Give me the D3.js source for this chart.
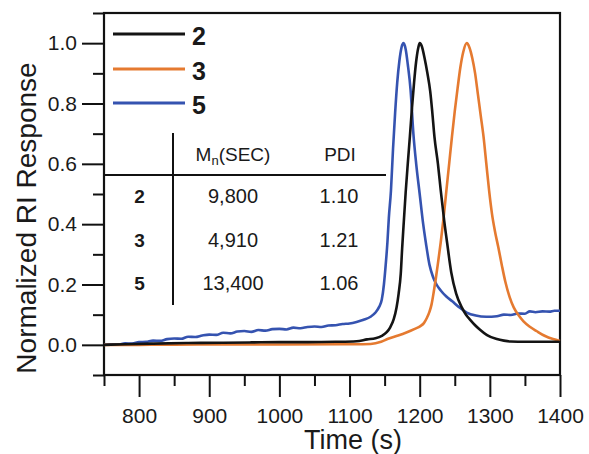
<!DOCTYPE html>
<html>
<head>
<title>SEC traces</title>
<script src="https://d3js.org/d3.v7.min.js"></script>
<style>
  body { margin: 0; background: white; }
  text { font-family: 'Liberation Sans', Arial, sans-serif; fill: #1a1a1a; }
</style>
</head>
<body>
<div id="chart"></div>
<script>
// series names and colours
var seriesNames = ['2', '3', '5'];
var seriesColors = ['#141414', '#e57a30', '#3553b0'];

// trace of 2 (black)
var time2 = [750, 780, 820, 870, 920, 960, 1000, 1040, 1080, 1110, 1125, 1137, 1146, 1153, 1158, 1163, 1167, 1170, 1173, 1175, 1177, 1180, 1183, 1186, 1189, 1192, 1195, 1198, 1200, 1203, 1207, 1211, 1215, 1218, 1221, 1226, 1230, 1235, 1239, 1245, 1252, 1260, 1266, 1272, 1279, 1286, 1296, 1310, 1320, 1330, 1350, 1375, 1400];
var resp2 = [0.000, 0.002, 0.004, 0.006, 0.007, 0.008, 0.009, 0.009, 0.010, 0.012, 0.018, 0.022, 0.030, 0.042, 0.058, 0.085, 0.124, 0.170, 0.235, 0.320, 0.395, 0.505, 0.600, 0.690, 0.785, 0.870, 0.940, 0.985, 1.000, 0.990, 0.950, 0.900, 0.840, 0.770, 0.690, 0.600, 0.512, 0.410, 0.340, 0.240, 0.170, 0.124, 0.100, 0.083, 0.065, 0.050, 0.032, 0.019, 0.014, 0.011, 0.010, 0.010, 0.010];

// trace of 3 (orange)
var time3 = [750, 800, 900, 1000, 1100, 1130, 1145, 1155, 1168, 1181, 1193, 1201, 1206, 1210, 1214, 1217, 1220, 1223, 1226, 1230, 1234, 1238, 1242, 1246, 1250, 1254, 1258, 1262, 1267, 1271, 1275, 1279, 1283, 1287, 1291, 1295, 1299, 1303, 1307, 1312, 1317, 1322, 1328, 1334, 1341, 1348, 1357, 1367, 1378, 1390, 1400];
var resp3 = [0.000, 0.000, 0.001, 0.001, 0.002, 0.003, 0.010, 0.020, 0.030, 0.041, 0.053, 0.062, 0.072, 0.088, 0.110, 0.135, 0.175, 0.220, 0.270, 0.340, 0.420, 0.510, 0.600, 0.690, 0.775, 0.850, 0.920, 0.970, 1.000, 0.985, 0.950, 0.900, 0.830, 0.760, 0.690, 0.600, 0.510, 0.435, 0.380, 0.324, 0.265, 0.210, 0.160, 0.124, 0.098, 0.078, 0.060, 0.045, 0.030, 0.019, 0.013];

// trace of 5 (blue)
var time5 = [750, 760, 770, 780, 790, 800, 810, 820, 830, 840, 850, 860, 870, 880, 890, 900, 910, 920, 930, 940, 950, 960, 970, 980, 990, 1000, 1010, 1020, 1030, 1040, 1050, 1060, 1070, 1080, 1090, 1100, 1110, 1120, 1130, 1137, 1142, 1146, 1149, 1151, 1154, 1156, 1159, 1162, 1165, 1168, 1171, 1174, 1177, 1180, 1183, 1187, 1191, 1195, 1200, 1205, 1209, 1214, 1219, 1224, 1230, 1238, 1246, 1256, 1267, 1280, 1295, 1310, 1320, 1330, 1340, 1350, 1357, 1365, 1375, 1385, 1392, 1400];
var resp5 = [0.000, 0.002, 0.001, 0.005, 0.004, 0.009, 0.010, 0.014, 0.013, 0.019, 0.021, 0.020, 0.027, 0.026, 0.031, 0.034, 0.033, 0.040, 0.038, 0.044, 0.046, 0.043, 0.049, 0.047, 0.052, 0.053, 0.051, 0.057, 0.055, 0.059, 0.061, 0.059, 0.064, 0.065, 0.069, 0.071, 0.076, 0.083, 0.093, 0.107, 0.125, 0.150, 0.200, 0.250, 0.340, 0.420, 0.510, 0.650, 0.770, 0.870, 0.940, 0.985, 1.000, 0.980, 0.930, 0.845, 0.700, 0.600, 0.500, 0.400, 0.335, 0.265, 0.225, 0.200, 0.180, 0.160, 0.145, 0.125, 0.107, 0.097, 0.093, 0.095, 0.100, 0.099, 0.104, 0.103, 0.111, 0.108, 0.111, 0.110, 0.113, 0.113];

// axis ticks
var xMajor = [800, 900, 1000, 1100, 1200, 1300, 1400];
var xMinor = [750, 850, 950, 1050, 1150, 1250, 1350];
var yMajor = [0.0, 0.2, 0.4, 0.6, 0.8, 1.0];
var yMinor = [-0.1, 0.1, 0.3, 0.5, 0.7, 0.9, 1.1];

// inset table
var tableHead = ['M', 'PDI'];
var tableRows = ['2', '3', '5'];
var tableMn = ['9,800', '4,910', '13,400'];
var tablePdi = ['1.10', '1.21', '1.06'];

var W = 589, H = 454;
var plotLeft = 104, plotRight = 560, plotTop = 13, plotBottom = 375;

var svg = d3.select('#chart').append('svg')
    .attr('width', W)
    .attr('height', H);

var x = d3.scaleLinear().domain([750, 1400]).range([plotLeft, plotRight]);
var y = d3.scaleLinear().domain([-0.1, 1.1]).range([plotBottom, plotTop]);

// minor ticks first, then major with labels
svg.append('g')
    .attr('transform', 'translate(0,' + plotBottom + ')')
    .call(d3.axisBottom(x).tickValues(xMinor).tickSize(11).tickFormat(''));
svg.append('g')
    .attr('class', 'xmajor')
    .attr('transform', 'translate(0,' + plotBottom + ')')
    .call(d3.axisBottom(x).tickValues(xMajor).tickSize(22).tickPadding(11).tickFormat(d3.format('d')));
svg.append('g')
    .attr('transform', 'translate(' + plotLeft + ',0)')
    .call(d3.axisLeft(y).tickValues(yMinor).tickSize(11).tickFormat(''));
svg.append('g')
    .attr('class', 'ymajor')
    .attr('transform', 'translate(' + plotLeft + ',0)')
    .call(d3.axisLeft(y).tickValues(yMajor).tickSize(22).tickPadding(5).tickFormat(d3.format('.1f')));

svg.selectAll('.domain').remove();
svg.selectAll('.tick line').attr('stroke', '#111').attr('stroke-width', 2);
svg.selectAll('.tick text')
    .style('font-family', "'Liberation Sans', Arial, sans-serif")
    .style('font-size', '21px')
    .attr('fill', '#1a1a1a');

// frame
svg.append('rect')
    .attr('x', plotLeft).attr('y', plotTop)
    .attr('width', plotRight - plotLeft).attr('height', plotBottom - plotTop)
    .attr('fill', 'none')
    .attr('stroke', '#111')
    .attr('stroke-width', 2.2);

// axis titles
svg.append('text')
    .attr('x', 353)
    .attr('y', 449)
    .attr('text-anchor', 'middle')
    .style('font-size', '27px')
    .text('Time (s)');
svg.append('text')
    .attr('transform', 'translate(36,218) rotate(-90)')
    .attr('text-anchor', 'middle')
    .style('font-size', '28px')
    .text('Normalized RI Response');

// traces
var line = d3.line()
    .x(function(d) { return x(d[0]); })
    .y(function(d) { return y(d[1]); })
    .curve(d3.curveMonotoneX);

var traces = [d3.zip(time2, resp2), d3.zip(time3, resp3), d3.zip(time5, resp5)];
// draw blue first, black on top
[2, 1, 0].forEach(function(i) {
    svg.append('path')
        .datum(traces[i])
        .attr('d', line)
        .attr('fill', 'none')
        .attr('stroke', seriesColors[i])
        .attr('stroke-width', 2.6)
        .attr('stroke-linejoin', 'round');
});

// legend
var legY = [34, 69, 103];
seriesNames.forEach(function(name, i) {
    svg.append('line')
        .attr('x1', 113).attr('x2', 185)
        .attr('y1', legY[i]).attr('y2', legY[i])
        .attr('stroke', seriesColors[i])
        .attr('stroke-width', 3);
    svg.append('text')
        .attr('x', 192)
        .attr('y', legY[i] + 11)
        .style('font-size', '25px')
        .style('font-weight', 'bold')
        .text(name);
});

// inset table
svg.append('line')
    .attr('x1', 173).attr('x2', 173)
    .attr('y1', 133).attr('y2', 305)
    .attr('stroke', '#111').attr('stroke-width', 2);
svg.append('line')
    .attr('x1', plotLeft).attr('x2', 386)
    .attr('y1', 175).attr('y2', 175)
    .attr('stroke', '#111').attr('stroke-width', 2);

var head = svg.append('text')
    .attr('x', 233).attr('y', 161)
    .attr('text-anchor', 'middle')
    .style('font-size', '19px');
head.append('tspan').text(tableHead[0]);
head.append('tspan').attr('dy', 4).style('font-size', '13px').text('n');
head.append('tspan').attr('dy', -4).text('(SEC)');

svg.append('text')
    .attr('x', 340).attr('y', 161)
    .attr('text-anchor', 'middle')
    .style('font-size', '19px')
    .text(tableHead[1]);

var rowY = [203, 247, 290];
tableRows.forEach(function(r, i) {
    svg.append('text')
        .attr('x', 139.5).attr('y', rowY[i])
        .attr('text-anchor', 'middle')
        .style('font-size', '19px')
        .style('font-weight', 'bold')
        .text(r);
    svg.append('text')
        .attr('x', 233).attr('y', rowY[i])
        .attr('text-anchor', 'middle')
        .style('font-size', '20px')
        .text(tableMn[i]);
    svg.append('text')
        .attr('x', 339).attr('y', rowY[i])
        .attr('text-anchor', 'middle')
        .style('font-size', '20px')
        .text(tablePdi[i]);
});
</script>
</body>
</html>
